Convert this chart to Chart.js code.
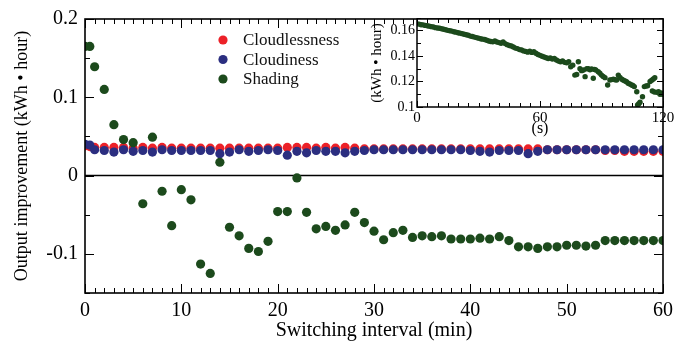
<!DOCTYPE html>
<html>
<head>
<meta charset="utf-8">
<script src="https://cdn.jsdelivr.net/npm/chart.js@4.4.0/dist/chart.umd.min.js"></script>
<style>
	body { margin: 0; background: #fff; }
	#wrap { position: relative; width: 691px; height: 344px; }
	#wrap canvas { position: absolute; left: 0; top: 0; }
</style>
</head>
<body>
<div id="wrap">
	<canvas id="main-canvas" width="691" height="344"></canvas>
	<canvas id="inset-canvas" width="691" height="344"></canvas>
</div>
<script>
// switching interval (min)
const intervals = [0, 0.5, 1, 2, 3, 4, 5, 6, 7, 8, 9, 10, 11, 12, 13, 14, 15, 16, 17, 18, 19, 20,
	21, 22, 23, 24, 25, 26, 27, 28, 29, 30, 31, 32, 33, 34, 35, 36, 37, 38, 39, 40,
	41, 42, 43, 44, 45, 46, 47, 48, 49, 50, 51, 52, 53, 54, 55, 56, 57, 58, 59, 60];

// output improvement (kWh・hour)
const cloudlessness = [0.038, 0.037, 0.036, 0.036, 0.036, 0.036, 0.035, 0.036, 0.035, 0.036, 0.035, 0.035,
	0.035, 0.035, 0.035, 0.035, 0.035, 0.035, 0.035, 0.035, 0.035, 0.035,
	0.036, 0.036, 0.036, 0.035, 0.036, 0.035, 0.036, 0.035, 0.034, 0.034,
	0.034, 0.034, 0.034, 0.034, 0.034, 0.034, 0.034, 0.034, 0.034, 0.034,
	0.034, 0.034, 0.034, 0.034, 0.034, 0.034, 0.034, 0.033, 0.033, 0.033,
	0.033, 0.033, 0.033, 0.032, 0.032, 0.031, 0.031, 0.031, 0.031, 0.031];

const cloudiness = [0.040, 0.039, 0.033, 0.032, 0.030, 0.033, 0.031, 0.032, 0.030, 0.033, 0.032, 0.032,
	0.032, 0.032, 0.032, 0.028, 0.030, 0.033, 0.031, 0.032, 0.033, 0.032,
	0.026, 0.031, 0.029, 0.032, 0.031, 0.031, 0.029, 0.031, 0.032, 0.033,
	0.033, 0.033, 0.033, 0.033, 0.033, 0.033, 0.033, 0.033, 0.033, 0.032,
	0.031, 0.030, 0.032, 0.032, 0.032, 0.028, 0.031, 0.033, 0.033, 0.033,
	0.033, 0.033, 0.033, 0.033, 0.033, 0.033, 0.033, 0.033, 0.033, 0.033];

const shading = [0.165, 0.165, 0.139, 0.110, 0.065, 0.046, 0.042, -0.036, 0.049, -0.020, -0.064, -0.018,
	-0.031, -0.113, -0.125, 0.017, -0.066, -0.077, -0.093, -0.097, -0.084, -0.046,
	-0.046, -0.003, -0.047, -0.068, -0.065, -0.070, -0.063, -0.047, -0.060, -0.071,
	-0.082, -0.073, -0.070, -0.079, -0.077, -0.078, -0.077, -0.081, -0.081, -0.081,
	-0.080, -0.081, -0.078, -0.083, -0.091, -0.091, -0.093, -0.091, -0.091, -0.089,
	-0.089, -0.090, -0.089, -0.083, -0.083, -0.083, -0.083, -0.083, -0.083, -0.083];

const xTicks = [0, 10, 20, 30, 40, 50, 60];
const yTicks = [-0.1, 0, 0.1, 0.2];

// inset: shading output over the first 120 s
const insetTime = [0, 1, 2, 3, 4, 5, 6, 7, 8, 9, 10, 11, 12, 13, 14, 15, 16, 17, 18, 19,
	20, 21, 22, 23, 24, 25, 26, 27, 28, 29, 30, 31, 32, 33, 34, 35, 36, 37, 38, 39,
	40, 41, 42, 43, 44, 45, 46, 47, 48, 49, 50, 51, 52, 53, 54, 55, 56, 57, 58, 59,
	60, 61, 62, 63, 64, 65, 66, 67, 68, 69, 70, 71, 72, 73, 74, 75, 76,
	77, 77.9, 78.7, 79.5, 80.3, 81.2, 82, 82.8, 83.6, 84.4, 85.2, 86, 86.6, 87.2, 88.4, 89.2,
	90, 90.8, 91.7, 93, 94.1, 95, 95.8, 96.6, 97.4, 98.2, 99, 99.9, 100.7, 101.5, 102.2,
	103, 103.8, 104.7, 105.3, 106, 107.2, 107.6, 108.2, 108.8, 110, 110.9, 111.7, 112.5,
	113.7, 114.5, 115.3, 116, 114.8, 115.8, 117, 117.8, 118.5, 119.2, 119.7];
const insetOutput = [0.1652, 0.1650, 0.1645, 0.1644, 0.1640, 0.1637, 0.1634, 0.1630, 0.1628, 0.1622,
	0.1620, 0.1617, 0.1613, 0.1610, 0.1606, 0.1601, 0.1598, 0.1595, 0.1590, 0.1587,
	0.1582, 0.1579, 0.1575, 0.1570, 0.1566, 0.1562, 0.1556, 0.1553, 0.1548, 0.1544,
	0.1540, 0.1535, 0.1532, 0.1529, 0.1523, 0.1518, 0.1514, 0.1511, 0.1518, 0.1510,
	0.1505, 0.1500, 0.1510, 0.1497, 0.1489, 0.1482, 0.1478, 0.1470, 0.1462, 0.1458,
	0.1450, 0.1447, 0.1440, 0.1436, 0.1430, 0.1437, 0.1428, 0.1434, 0.1422, 0.1412,
	0.1405, 0.1398, 0.1392, 0.1386, 0.1380, 0.1385, 0.1376, 0.1380, 0.1368, 0.1360,
	0.1355, 0.1362, 0.1350, 0.1346, 0.1355, 0.1316, 0.1328,
	0.1250, 0.1255, 0.1355, 0.1300, 0.1285, 0.1290, 0.1238, 0.1300, 0.1300, 0.1292,
	0.1298, 0.1225, 0.1295, 0.1290, 0.1277, 0.1265, 0.1250, 0.1240, 0.1230, 0.1173,
	0.1212, 0.1215, 0.1217, 0.1214, 0.1212, 0.1250, 0.1232, 0.1217, 0.1210, 0.1204,
	0.1198, 0.1186, 0.1180, 0.1173, 0.1168, 0.1160, 0.1120, 0.1016, 0.1025, 0.1037,
	0.1080, 0.1160, 0.1165, 0.1167, 0.1200, 0.1210, 0.1220, 0.1230, 0.1125, 0.1118,
	0.1115, 0.1120, 0.1100, 0.1110, 0.1100];
const insetXTicks = [0, 60, 120];
const insetYTicks = [0.1, 0.12, 0.14, 0.16];

const SERIF = "'Liberation Serif', 'Times New Roman', serif";
const RED = "#ec2128";
const BLUE = "#2b2e80";
const GREEN = "#1c4a1c";

const toPoints = (xs, ys) => xs.map((x, i) => ({ x: x, y: ys[i] }));

const fmt = (v) => {
	if (Math.abs(v) < 1e-9) return "0";
	return String(Math.round(v * 1000) / 1000);
};

// box round the plot area with inward ticks on every side
function drawFrame(chart, o) {
	const { ctx, chartArea: a, scales } = chart;
	const x = scales.x, y = scales.y;
	ctx.save();
	ctx.strokeStyle = "#000";
	ctx.lineWidth = 1;
	ctx.beginPath();
	const nx = Math.round((x.max - x.min) / o.xStep);
	for (let i = 0; i <= nx; i++) {
		const v = x.min + i * o.xStep;
		const px = Math.round(x.getPixelForValue(v)) + 0.5;
		const len = i % o.xEvery == 0 ? o.majorLen : o.minorLen;
		ctx.moveTo(px, a.bottom); ctx.lineTo(px, a.bottom - len);
		ctx.moveTo(px, a.top); ctx.lineTo(px, a.top + len);
	}
	const ny = Math.round((y.max - y.min) / o.yStep);
	for (let i = 0; i <= ny; i++) {
		const v = y.min + i * o.yStep;
		const py = Math.round(y.getPixelForValue(v)) + 0.5;
		const major = Math.abs(v / o.yMajor - Math.round(v / o.yMajor)) < 1e-6;
		const len = major ? o.majorLen : o.minorLen;
		ctx.moveTo(a.left, py); ctx.lineTo(a.left + len, py);
		ctx.moveTo(a.right, py); ctx.lineTo(a.right - len, py);
	}
	ctx.stroke();
	ctx.lineWidth = o.lineWidth;
	ctx.strokeRect(a.left, a.top, a.right - a.left, a.bottom - a.top);
	ctx.restore();
}

const mainPlugin = {
	id: "mainFrame",
	beforeDatasetsDraw(chart) {
		// zero line
		const { ctx, chartArea: a, scales } = chart;
		const py = scales.y.getPixelForValue(0);
		ctx.save();
		ctx.strokeStyle = "#000";
		ctx.lineWidth = 1.5;
		ctx.beginPath();
		ctx.moveTo(a.left, py);
		ctx.lineTo(a.right, py);
		ctx.stroke();
		ctx.restore();
	},
	afterDraw(chart) {
		drawFrame(chart, { xStep: 1, xEvery: 10, yStep: 0.05, yMajor: 0.1, majorLen: 9, minorLen: 5, lineWidth: 1.6 });
		// legend inside the plot
		const ctx = chart.ctx;
		const rows = [40, 59.5, 79];
		ctx.save();
		ctx.font = "17px " + SERIF;
		ctx.textBaseline = "middle";
		ctx.fillStyle = "#000";
		chart.data.datasets.forEach((ds, i) => {
			ctx.beginPath();
			ctx.fillStyle = ds.backgroundColor;
			ctx.arc(223, rows[i], 4.6, 0, Math.PI * 2);
			ctx.fill();
			ctx.fillStyle = "#111";
			ctx.fillText(ds.label, 243, rows[i] + 1);
		});
		ctx.restore();
	},
};

new Chart("main-canvas", {
	type: "scatter",
	data: {
		datasets: [
			{ label: "Cloudlessness", data: toPoints(intervals, cloudlessness), backgroundColor: RED, borderWidth: 0, pointRadius: 4.6, order: 3 },
			{ label: "Cloudiness", data: toPoints(intervals, cloudiness), backgroundColor: BLUE, borderWidth: 0, pointRadius: 4.6, order: 2 },
			{ label: "Shading", data: toPoints(intervals, shading), backgroundColor: GREEN, borderWidth: 0, pointRadius: 4.6, order: 1 },
		],
	},
	options: {
		responsive: false,
		animation: false,
		layout: { padding: { left: 0, top: 19, right: 28, bottom: 0 } },
		plugins: {
			legend: { display: false },
			tooltip: { enabled: false },
		},
		scales: {
			x: {
				type: "linear",
				min: 0,
				max: 60,
				grid: { display: false, drawTicks: false },
				border: { display: false },
				afterBuildTicks: (s) => { s.ticks = xTicks.map((v) => ({ value: v })); },
				afterFit: (s) => { s.height = 51; s.paddingLeft = 0; s.paddingRight = 0; },
				ticks: { color: "#000", padding: 6, maxRotation: 0, autoSkip: false, font: { family: SERIF, size: 20 } },
				title: { display: true, text: "Switching interval (min)", color: "#000", padding: { top: 0, bottom: 1 }, font: { family: SERIF, size: 20 } },
			},
			y: {
				type: "linear",
				min: -0.15,
				max: 0.2,
				grid: { display: false, drawTicks: false },
				border: { display: false },
				afterBuildTicks: (s) => { s.ticks = yTicks.map((v) => ({ value: v })); },
				afterFit: (s) => { s.width = 85; s.paddingTop = 0; s.paddingBottom = 0; },
				ticks: { color: "#000", padding: 7, autoSkip: false, font: { family: SERIF, size: 20 }, callback: (v) => fmt(v) },
				title: { display: true, text: "Output improvement (kWh • hour)", color: "#000", padding: { top: 11, bottom: 0 }, font: { family: SERIF, size: 18 } },
			},
		},
	},
	plugins: [mainPlugin],
});

const insetPlugin = {
	id: "insetFrame",
	beforeDatasetsDraw(chart) {
		const { ctx, chartArea: a } = chart;
		ctx.save();
		ctx.fillStyle = "#fff";
		ctx.fillRect(a.left, a.top, a.right - a.left, a.bottom - a.top);
		ctx.restore();
	},
	afterDraw(chart) {
		drawFrame(chart, { xStep: 5, xEvery: 12, yStep: 0.01, yMajor: 0.02, majorLen: 6, minorLen: 4, lineWidth: 1.5 });
	},
};

new Chart("inset-canvas", {
	type: "scatter",
	data: {
		datasets: [
			{ label: "Shading", data: toPoints(insetTime, insetOutput), backgroundColor: GREEN, borderWidth: 0, pointRadius: 2.7 },
		],
	},
	options: {
		responsive: false,
		animation: false,
		layout: { padding: { left: 360, top: 19, right: 28, bottom: 206 } },
		plugins: {
			legend: { display: false },
			tooltip: { enabled: false },
		},
		scales: {
			x: {
				type: "linear",
				min: 0,
				max: 120,
				grid: { display: false, drawTicks: false },
				border: { display: false },
				afterBuildTicks: (s) => { s.ticks = insetXTicks.map((v) => ({ value: v })); },
				afterFit: (s) => { s.height = 31; s.paddingLeft = 0; s.paddingRight = 0; },
				ticks: { color: "#000", padding: 2, maxRotation: 0, autoSkip: false, font: { family: SERIF, size: 15 } },
				title: { display: true, text: "(s)", color: "#000", padding: 0, font: { family: SERIF, size: 16 } },
			},
			y: {
				type: "linear",
				min: 0.1,
				max: 0.169,
				grid: { display: false, drawTicks: false },
				border: { display: false },
				afterBuildTicks: (s) => { s.ticks = insetYTicks.map((v) => ({ value: v })); },
				afterFit: (s) => { s.width = 57; s.paddingTop = 0; s.paddingBottom = 0; },
				ticks: { color: "#000", padding: 2, autoSkip: false, font: { family: SERIF, size: 14 }, callback: (v) => fmt(v) },
				title: { display: true, text: "(kWh • hour)", color: "#000", padding: { top: 8, bottom: 0 }, font: { family: SERIF, size: 15 } },
			},
		},
	},
	plugins: [insetPlugin],
});
</script>
</body>
</html>
